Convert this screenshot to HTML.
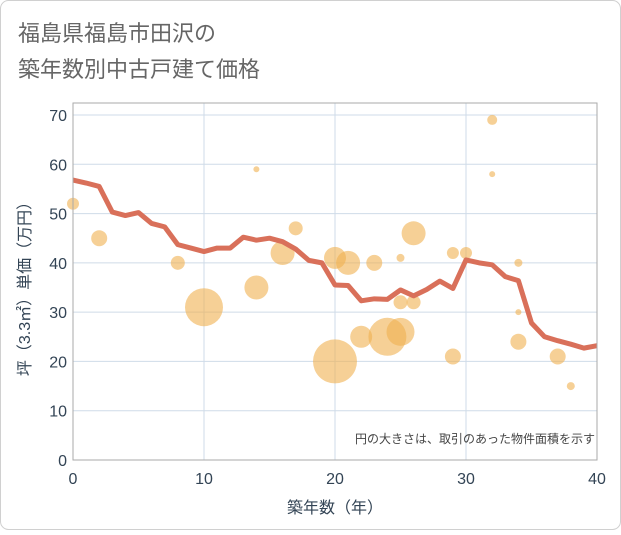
<!DOCTYPE html>
<html><head><meta charset="utf-8"><style>
body{margin:0;background:#fff}
svg text{font-family:"Liberation Sans","Noto Sans CJK JP",sans-serif}
</style></head><body>
<svg width="621" height="530" xmlns="http://www.w3.org/2000/svg">
<rect x="0.5" y="0.5" width="620" height="529" rx="8" fill="#fff" stroke="#d0d0d0"/>
<text x="18" y="41" font-size="22" fill="#666">福島県福島市田沢の</text>
<text x="18" y="77" font-size="22" fill="#666">築年数別中古戸建て価格</text>
<g id="grid"></g>
<g id="bubbles"></g>
<g id="line"></g>
<g id="axes"></g>
<text x="595" y="443" font-size="12" fill="#444" text-anchor="end">円の大きさは、取引のあった物件面積を示す</text>
<text x="335" y="513" font-size="16" fill="#345" text-anchor="middle">築年数（年）</text>
<text transform="translate(30,285) rotate(-90)" font-size="16" fill="#345" text-anchor="middle">坪（3.3㎡）単価（万円）</text>
</svg>
<script>
const xTicks=[0,10,20,30,40];
const yTicks=[0,10,20,30,40,50,60,70];
const lineYears=[0,1,2,3,4,5,6,7,8,9,10,11,12,13,14,15,16,17,18,19,20,21,22,23,24,25,26,27,28,29,30,31,32,33,34,35,36,37,38,39,40];
const lineValues=[56.8,56.2,55.5,50.3,49.6,50.2,48,47.3,43.7,43,42.3,43,43,45.2,44.6,45,44.3,42.8,40.5,40,35.5,35.4,32.3,32.7,32.6,34.5,33.3,34.6,36.3,34.8,40.6,40,39.6,37.2,36.4,27.8,25,24.2,23.5,22.7,23.2];
const bubbleX=[0,2,8,10,14,14,16,17,20,20,21,22,23,24,25,25,25,26,26,29,29,30,32,32,34,34,34,37,38];
const bubbleY=[52,45,40,31,59,35,42,47,20,41,40,25,40,25,26,41,32,46,32,42,21,42,69,58,40,30,24,21,15];
const bubbleR=[6,8,7,19,3,12,12,7,22,11,12,11,8,19,14,4,7,12,7,6,8,6,5,3,4,3,8,8,4];
const NS='http://www.w3.org/2000/svg';
const X0=73,X1=597,Y0=460,Y1=115;
const sx=v=>X0+(v-0)/(40-0)*(X1-X0);
const sy=v=>Y0-(v-0)/(70-0)*(Y0-Y1);
function mk(t,a,p){const e=document.createElementNS(NS,t);for(const k in a)e.setAttribute(k,a[k]);p.appendChild(e);return e;}
const grid=document.getElementById('grid'),axes=document.getElementById('axes');
for(const t of yTicks){
 const l=mk('line',{x1:X0,x2:X1,y1:sy(t),y2:sy(t),stroke:'#cfdbe8','stroke-width':1},grid);
 
 
 const tx=mk('text',{x:X0-6,y:sy(t)+6,'font-size':16,fill:'#345','text-anchor':'end'},axes);
 tx.textContent=t;
 
 
}
for(const t of xTicks){
 const l=mk('line',{x1:sx(t),x2:sx(t),y1:Y1-12,y2:Y0,stroke:'#cfdbe8','stroke-width':1},grid);
 
 
 const tx=mk('text',{x:sx(t),y:Y0+24,'font-size':16,fill:'#345','text-anchor':'middle'},axes);
 tx.textContent=t;
 
 
}
const fr=mk('rect',{x:X0,y:Y1-12,width:X1-X0,height:Y0-Y1+12,fill:'none',stroke:'#aaa','stroke-width':1},axes);


const bg=document.getElementById('bubbles');
for(let i=0;i<bubbleX.length;i++){
 const c=mk('circle',{cx:sx(bubbleX[i]),cy:sy(bubbleY[i]),r:bubbleR[i],fill:'#f0b050','fill-opacity':0.6},bg);
 
 
}
const pts=lineYears.map((y,i)=>sx(y)+','+sy(lineValues[i])).join(' ');
const pl=mk('polyline',{points:pts,fill:'none',stroke:'#d9705a','stroke-width':5,'stroke-linejoin':'round'},document.getElementById('line'));


</script>
</body></html>
